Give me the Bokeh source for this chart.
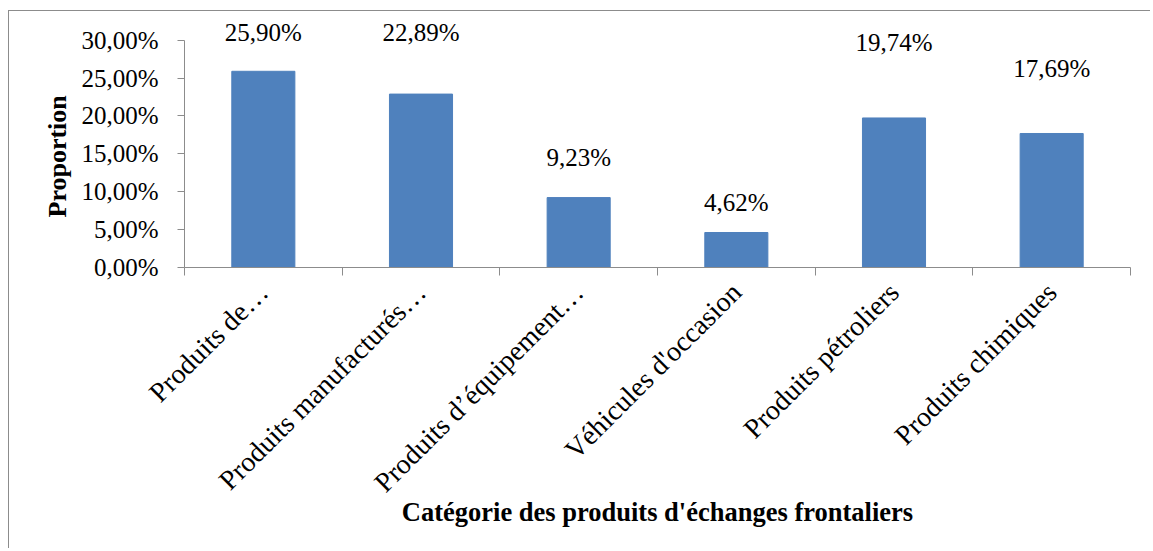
import math
from bokeh.plotting import figure
from bokeh.models import ColumnDataSource, FixedTicker, LabelSet, Range1d, Title
from bokeh.core.properties import value
from bokeh.embed import file_html
from bokeh.resources import INLINE

# ---- data ----
categories = [
    "Produits de…",
    "Produits manufacturés…",
    "Produits d’équipement…",
    "Véhicules d'occasion",
    "Produits pétroliers",
    "Produits chimiques",
]
proportions = [25.90, 22.89, 9.23, 4.62, 19.74, 17.69]
value_labels = ["25,90%", "22,89%", "9,23%", "4,62%", "19,74%", "17,69%"]
# height of each data label above its bar, in percentage points (as placed in the original)
label_offsets = [5.15, 8.16, 5.31, 3.97, 9.99, 8.61]
y_ticks = [0, 5, 10, 15, 20, 25, 30]

FONT = "Liberation Serif"
GREY = "#8c8c8c"
BLUE = "#4F81BD"

x_centers = [i + 0.5 for i in range(len(categories))]
source = ColumnDataSource(dict(
    x=x_centers,
    top=proportions,
    label=value_labels,
    ly=[v + o for v, o in zip(proportions, label_offsets)],
))

p = figure(
    width=1142, height=538,
    x_range=Range1d(0, len(categories)), y_range=Range1d(0, 33),
    output_backend="svg", toolbar_location=None,
    min_border_left=175, min_border_right=21,
    min_border_top=6, min_border_bottom=282,
)
p.styles = {"border-left": f"1px solid {GREY}", "border-top": f"1px solid {GREY}",
            "margin-top": "10px", "margin-left": "8px"}
p.outline_line_color = None
p.xgrid.visible = False
p.ygrid.visible = False
p.background_fill_color = "white"
p.border_fill_color = "white"

p.vbar(x="x", top="top", width=0.4, bottom=0, source=source,
       fill_color=BLUE, line_color=BLUE)

labels = LabelSet(x="x", y="ly", text="label", source=source,
                  text_align="center", text_baseline="middle",
                  text_font=value(FONT), text_font_size="25px", text_color="black")
p.add_layout(labels)

# y axis
ya = p.yaxis[0]
ya.ticker = FixedTicker(ticks=y_ticks, minor_ticks=[])
ya.bounds = (0, 30)
ya.major_label_overrides = {t: (f"{t:.2f}%").replace(".", ",") for t in y_ticks}
ya.axis_line_color = GREY
ya.major_tick_line_color = GREY
ya.major_tick_out = 7
ya.major_tick_in = 0
ya.minor_tick_line_color = None
ya.major_label_standoff = 19
ya.major_label_text_font = FONT
ya.major_label_text_font_size = "25px"
ya.major_label_text_color = "black"

# y axis title, centred on the 0-30 % span
ytitle = Title(text="Proportion", align="left", offset=50, standoff=14,
               text_font=FONT, text_font_size="26px", text_font_style="bold",
               text_color="black")
p.add_layout(ytitle, "left")

# x axis
xa = p.xaxis[0]
xa.ticker = FixedTicker(ticks=x_centers, minor_ticks=list(range(len(categories) + 1)))
xa.major_label_overrides = {x: c for x, c in zip(x_centers, categories)}
xa.major_label_orientation = math.pi / 4
xa.axis_line_color = GREY
xa.major_tick_line_color = None
xa.major_tick_out = 0
xa.major_tick_in = 0
xa.minor_tick_line_color = GREY
xa.minor_tick_out = 8
xa.minor_tick_in = 0
xa.major_label_standoff = 12
xa.major_label_text_font = FONT
xa.major_label_text_font_size = "28px"
xa.major_label_text_color = "black"
xa.axis_label = "Catégorie des produits d'échanges frontaliers"
xa.axis_label_text_font = FONT
xa.axis_label_text_font_size = "26.5px"
xa.axis_label_text_font_style = "bold"
xa.axis_label_text_color = "black"
xa.axis_label_standoff = -15

open("out.html", "w").write(file_html(p, INLINE))
